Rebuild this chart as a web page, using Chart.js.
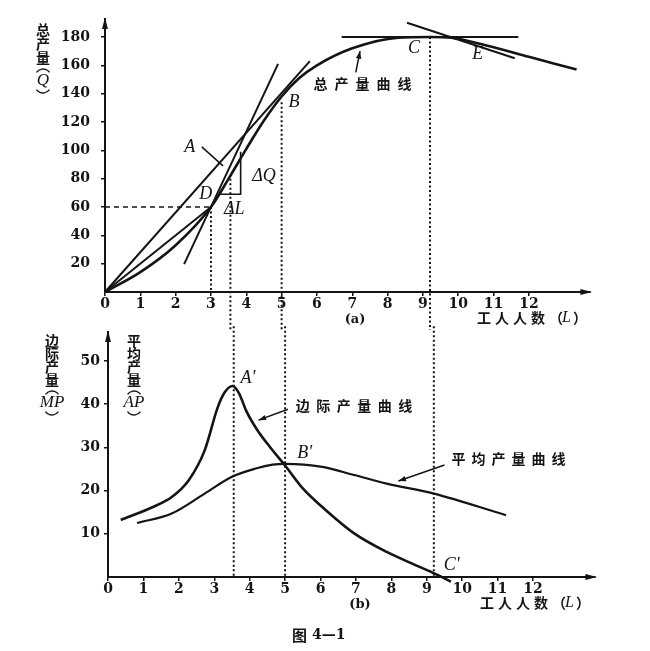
<!DOCTYPE html>
<html>
<head>
<meta charset="utf-8">
<script src="https://cdn.jsdelivr.net/npm/chart.js@4"></script>
<style>
  body { margin: 0; background: #fff; }
  #wrap { position: relative; width: 650px; height: 651px; }
  canvas { position: absolute; left: 0; }
</style>
</head>
<body>
<div id="wrap">
  <canvas id="top" width="650" height="330" style="top:0"></canvas>
  <canvas id="bot" width="650" height="331" style="top:320px"></canvas>
</div>
<script>
// tick labels
const xTicks = [0, 1, 2, 3, 4, 5, 6, 7, 8, 9, 10, 11, 12];
const qTicks = [20, 40, 60, 80, 100, 120, 140, 160, 180];
const pTicks = [10, 20, 30, 40, 50];

// (a) total product curve
const workers = [0, 1, 2, 3, 3.5, 4, 4.5, 5, 5.5, 6, 7, 8.3, 9.2, 9.8, 10.8, 12, 13.35];
const totalQ = [0, 14, 33, 60, 80, 101, 121, 138, 151, 160, 172, 179.5, 180, 179.5, 174, 166, 157];

// (a) straight lines
const rayL = [0, 5.8], rayQ = [0, 163];          // ray from origin, touches at B
const chordL = [0, 3], chordQ = [0, 60];        // chord to D
const tanAL = [2.24, 4.9], tanAQ = [19.7, 161];  // steep tangent
const tanCL = [6.7, 11.7], tanCQ = [180, 180];   // flat tangent at C
const tanEL = [8.55, 11.6], tanEQ = [190, 165];  // tangent at E
const deltaL = [3.22, 3.84, 3.84], deltaQ = [69, 69, 99];

// dotted guides (x, top of guide in panel a)
const guideX = [3, 3.55, 5, 9.2];
const guideTopQ = [60, 80, 134, 180];

// (b) marginal and average product
const mpL = [0.36, 1.27, 1.8, 2.28, 2.73, 3.1, 3.3, 3.52, 3.7, 3.9, 4.2, 4.6, 5, 5.5, 6.05, 6.95, 7.87, 8.78, 9.3, 9.68];
const mpV = [13.2, 16.2, 18.5, 22.4, 29.3, 39.3, 42.8, 44.2, 42.5, 38.5, 34.2, 29.8, 25.8, 20.5, 16.2, 10.1, 5.8, 2.4, 0.5, -1.1];
const apL = [0.82, 1.8, 2.73, 3.5, 4.17, 4.65, 5, 6.05, 6.95, 7.87, 9.2, 11.24];
const apV = [12.5, 14.7, 19.3, 23.2, 25.1, 26, 26.2, 25.5, 23.6, 21.6, 19.3, 14.3];

const INK = '#141414';
const numFont = { family: '"DejaVu Serif", serif', size: 14, weight: 'bold' };
const CJK = '"Noto Sans CJK SC"';

const pts = (xs, ys) => xs.map((x, i) => ({ x, y: ys[i] }));

function line(data, extra) {
  return Object.assign({
    data, showLine: true, pointRadius: 0, borderColor: INK,
    borderWidth: 2, fill: false, clip: false
  }, extra);
}
const dotted = { borderWidth: 2, borderDash: [2, 2.5] };

function xScale(max, h) {
  return {
    type: 'linear', min: 0, max,
    afterBuildTicks: s => { s.ticks = xTicks.map(v => ({ value: v })); },
    afterFit: s => { s.height = h; },
    ticks: { font: numFont, color: INK, padding: 0, maxRotation: 0, autoSkip: false },
    grid: { drawOnChartArea: false, tickLength: 4, color: INK, lineWidth: 1.5 },
    border: { color: INK, width: 2 }
  };
}
function yScale(max, vals, w, pad) {
  return {
    type: 'linear', min: 0, max,
    afterBuildTicks: s => { s.ticks = vals.map(v => ({ value: v })); },
    afterFit: s => { s.width = w; },
    ticks: { font: numFont, color: INK, padding: pad },
    grid: { drawOnChartArea: false, tickLength: 4, color: INK, lineWidth: 1.5 },
    border: { color: INK, width: 2 }
  };
}

function head(ctx, x1, y1, x2, y2, size, spread) {
  const a = Math.atan2(y2 - y1, x2 - x1);
  ctx.beginPath();
  ctx.moveTo(x2, y2);
  ctx.lineTo(x2 - size * Math.cos(a - spread), y2 - size * Math.sin(a - spread));
  ctx.lineTo(x2 - size * Math.cos(a + spread), y2 - size * Math.sin(a + spread));
  ctx.closePath();
  ctx.fill();
}
function arrow(ctx, x1, y1, x2, y2) {
  ctx.lineWidth = 1.5;
  ctx.beginPath(); ctx.moveTo(x1, y1); ctx.lineTo(x2, y2); ctx.stroke();
  head(ctx, x1, y1, x2, y2, 8, 0.35);
}
function axisArrows(ctx, a) {
  head(ctx, a.left, a.top + 10, a.left, a.top - 2, 12, 0.25);
  head(ctx, a.right - 10, a.bottom, a.right + 2, a.bottom, 12, 0.25);
}
function spaced(ctx, text, x, y, gap) {
  ctx.textAlign = 'left';
  for (const ch of text) { ctx.fillText(ch, x, y); x += ctx.measureText(ch).width + gap; }
  return x;
}
function workersTitle(ctx, x, y) {
  ctx.font = 'bold 14px ' + CJK;
  let nx = spaced(ctx, '工人人数（', x, y, 4);
  ctx.font = 'italic 16px "Liberation Serif"';
  ctx.fillText('L', nx - 5, y);
  nx += ctx.measureText('L').width;
  ctx.font = 'bold 14px ' + CJK;
  ctx.fillText('）', nx - 3, y);
}
// vertical axis title: characters, then a bracketed symbol
function vertTitle(ctx, chars, sym, x, ys) {
  ctx.textAlign = 'center';
  ctx.font = 'bold 14px ' + CJK;
  chars.forEach((c, i) => ctx.fillText(c, x, ys[i]));
  const ym = ys[chars.length];
  ctx.font = 'italic 17px "Liberation Serif"';
  ctx.fillText(sym, x, ym);
  ctx.lineWidth = 1.4;
  ctx.beginPath(); ctx.arc(x, ym - 4, 8, Math.PI * 1.2, Math.PI * 1.8); ctx.stroke();
  ctx.beginPath(); ctx.arc(x, ym + 4, 8, Math.PI * 0.2, Math.PI * 0.8); ctx.stroke();
}

const deco = draw => ({
  id: 'deco',
  afterDatasetsDraw(chart) {
    const ctx = chart.ctx;
    const sx = chart.scales.x, sy = chart.scales.y;
    const P = (vx, vy) => [sx.getPixelForValue(vx), sy.getPixelForValue(vy)];
    ctx.save();
    ctx.fillStyle = INK; ctx.strokeStyle = INK;
    ctx.textBaseline = 'middle';
    axisArrows(ctx, chart.chartArea);
    draw(ctx, P);
    ctx.restore();
  }
});

function drawTop(ctx, P) {
  ctx.textAlign = 'center';
  ctx.font = 'italic 18px "Liberation Serif"';
  ctx.fillText('A', ...P(2.4, 102));
  ctx.fillText('D', ...P(2.85, 69));
  ctx.fillText('B', ...P(5.35, 134));
  ctx.fillText('C', ...P(8.75, 172));
  ctx.fillText('E', ...P(10.55, 167.5));
  ctx.fillText('ΔQ', ...P(4.5, 82));
  ctx.fillText('ΔL', ...P(3.66, 58.5));
  ctx.lineWidth = 1.5;
  ctx.beginPath(); ctx.moveTo(...P(2.74, 102.4)); ctx.lineTo(...P(3.34, 89)); ctx.stroke();

  ctx.font = 'bold 14px ' + CJK;
  spaced(ctx, '总产量曲线', P(5.9, 0)[0], P(0, 147)[1], 7);
  arrow(ctx, ...P(7.1, 155), ...P(7.22, 170));

  vertTitle(ctx, ['总', '产', '量'], 'Q', 43, [30, 44, 58, 81]);

  ctx.textAlign = 'center';
  ctx.font = 'bold 13px "DejaVu Serif"';
  ctx.fillText('(a)', 355, 320);
  workersTitle(ctx, 477, 318);
}

function drawBottom(ctx, P) {
  ctx.textAlign = 'center';
  ctx.font = 'italic 18px "Liberation Serif"';
  ctx.fillText("A'", ...P(3.95, 46));
  ctx.fillText("B'", ...P(5.55, 28.6));
  ctx.fillText("C'", ...P(9.7, 2.8));

  ctx.font = 'bold 14px ' + CJK;
  spaced(ctx, '边际产量曲线', P(5.3, 0)[0], P(0, 39.7)[1], 6.5);
  arrow(ctx, ...P(5.08, 38.8), ...P(4.25, 36.3));
  ctx.font = 'bold 14px ' + CJK;
  spaced(ctx, '平均产量曲线', P(9.7, 0)[0], P(0, 27.3)[1], 6);
  arrow(ctx, ...P(9.5, 25.9), ...P(8.2, 22.2));

  const ys = [21, 34, 47, 60, 83];
  vertTitle(ctx, ['边', '际', '产', '量'], 'MP', 52, ys);
  vertTitle(ctx, ['平', '均', '产', '量'], 'AP', 134, ys);

  ctx.textAlign = 'center';
  ctx.font = 'bold 13px "DejaVu Serif"';
  ctx.fillText('(b)', 360, 285);
  workersTitle(ctx, 480, 283);

  ctx.font = 'bold 15px ' + CJK;
  ctx.fillText('图', 292, 315);
  ctx.textAlign = 'left';
  ctx.font = 'bold 14px "DejaVu Serif"';
  ctx.fillText('4—1', 312, 315);
}

const baseOpts = {
  responsive: false,
  animation: false,
  events: [],
  plugins: { legend: { display: false }, tooltip: { enabled: false } }
};

// panel (a)
const topSets = [
  line(pts(workers, totalQ), { borderWidth: 2.6, cubicInterpolationMode: 'monotone' }),
  line(pts(rayL, rayQ)),
  line(pts(chordL, chordQ)),
  line(pts(tanAL, tanAQ)),
  line(pts(tanCL, tanCQ)),
  line(pts(tanEL, tanEQ)),
  line(pts(deltaL, deltaQ), { borderWidth: 1.6 }),
  line(pts([0, guideX[0]], [guideTopQ[0], guideTopQ[0]]), { borderWidth: 1.4, borderDash: [5, 4] }),
  line(pts([guideX[0], guideX[0]], [guideTopQ[0], 0]), dotted)
];
for (let i = 1; i < guideX.length; i++) {
  topSets.push(line(pts([guideX[i], guideX[i]], [guideTopQ[i], -30]), dotted));
}

new Chart(document.getElementById('top'), {
  type: 'scatter',
  data: { datasets: topSets },
  options: Object.assign({}, baseOpts, {
    layout: { padding: { top: 12, right: 60, left: 0, bottom: 0 } },
    scales: { x: xScale(13.73, 38), y: yScale(192.4, qTicks, 105, 11) }
  }),
  plugins: [deco(drawTop)]
});

// panel (b)
const botSets = [
  line(pts(mpL, mpV), { borderWidth: 2.6, cubicInterpolationMode: 'monotone' }),
  line(pts(apL, apV), { borderWidth: 2.2, cubicInterpolationMode: 'monotone' })
];
for (let i = 1; i < guideX.length; i++) {
  botSets.push(line(pts([guideX[i], guideX[i]], [58, 0]), dotted));
}

new Chart(document.getElementById('bot'), {
  type: 'scatter',
  data: { datasets: botSets },
  options: Object.assign({}, baseOpts, {
    layout: { padding: { top: 12, right: 55, left: 0, bottom: 0 } },
    scales: { x: xScale(13.75, 74), y: yScale(56.6, pTicks, 108, 4) }
  }),
  plugins: [deco(drawBottom)]
});
</script>
</body>
</html>
